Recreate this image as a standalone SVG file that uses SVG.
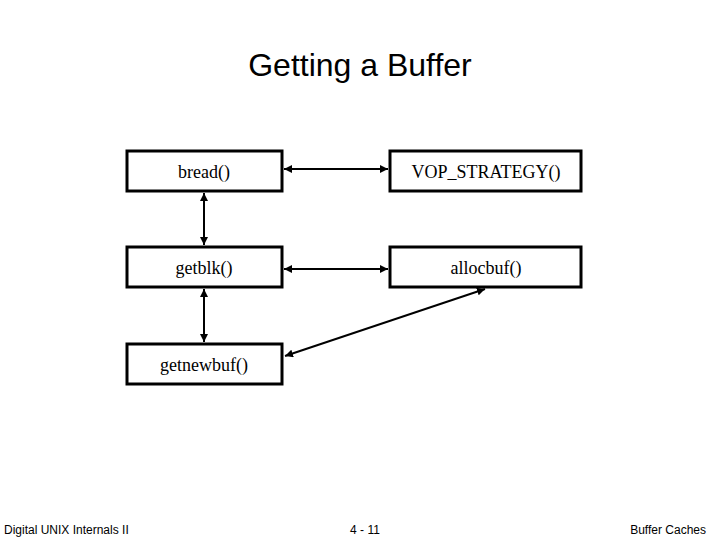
<svg xmlns="http://www.w3.org/2000/svg" width="720" height="540" viewBox="0 0 720 540">
<defs>
<style>
.box{fill:#fff;stroke:#000;stroke-width:3}
.t{font-family:"Liberation Serif",serif;font-size:18px;text-anchor:middle}
.c{stroke:#000;stroke-width:2;fill:none;marker-start:url(#a);marker-end:url(#a)}
.f{font-family:"Liberation Sans",sans-serif;font-size:12px}
</style>
<marker id="a" viewBox="0 0 10 10" refX="10" refY="5" markerWidth="4" markerHeight="4" orient="auto-start-reverse"><path d="M0,0L10,5L0,10z" fill="#000"/></marker>
</defs>
<rect width="720" height="540" fill="#fff"/>
<text x="360" y="76" font-family="Liberation Sans,sans-serif" font-size="32" text-anchor="middle">Getting a Buffer</text>
<g id="bread"><rect class="box" x="127" y="151" width="155" height="40"/><text class="t" x="204" y="178">bread()</text></g>
<g id="vop"><rect class="box" x="390" y="151" width="191" height="40"/><text class="t" x="486" y="178">VOP_STRATEGY()</text></g>
<g id="getblk"><rect class="box" x="127" y="247" width="155" height="40"/><text class="t" x="204" y="274">getblk()</text></g>
<g id="allocbuf"><rect class="box" x="390" y="247" width="191" height="40"/><text class="t" x="486" y="274">allocbuf()</text></g>
<g id="getnewbuf"><rect class="box" x="127" y="344" width="155" height="40"/><text class="t" x="204" y="371">getnewbuf()</text></g>
<g id="connectors">
<line class="c" x1="284" y1="169" x2="388" y2="169"/>
<line class="c" x1="284" y1="269" x2="388" y2="269"/>
<line class="c" x1="204" y1="193" x2="204" y2="245"/>
<line class="c" x1="204" y1="289" x2="204" y2="342"/>
<line class="c" x1="285" y1="356" x2="485" y2="289"/>
</g>
<text class="f" x="4" y="534">Digital UNIX Internals II</text>
<text class="f" x="365" y="534" text-anchor="middle">4 - 11</text>
<text class="f" x="706" y="534" text-anchor="end">Buffer Caches</text>
</svg>
